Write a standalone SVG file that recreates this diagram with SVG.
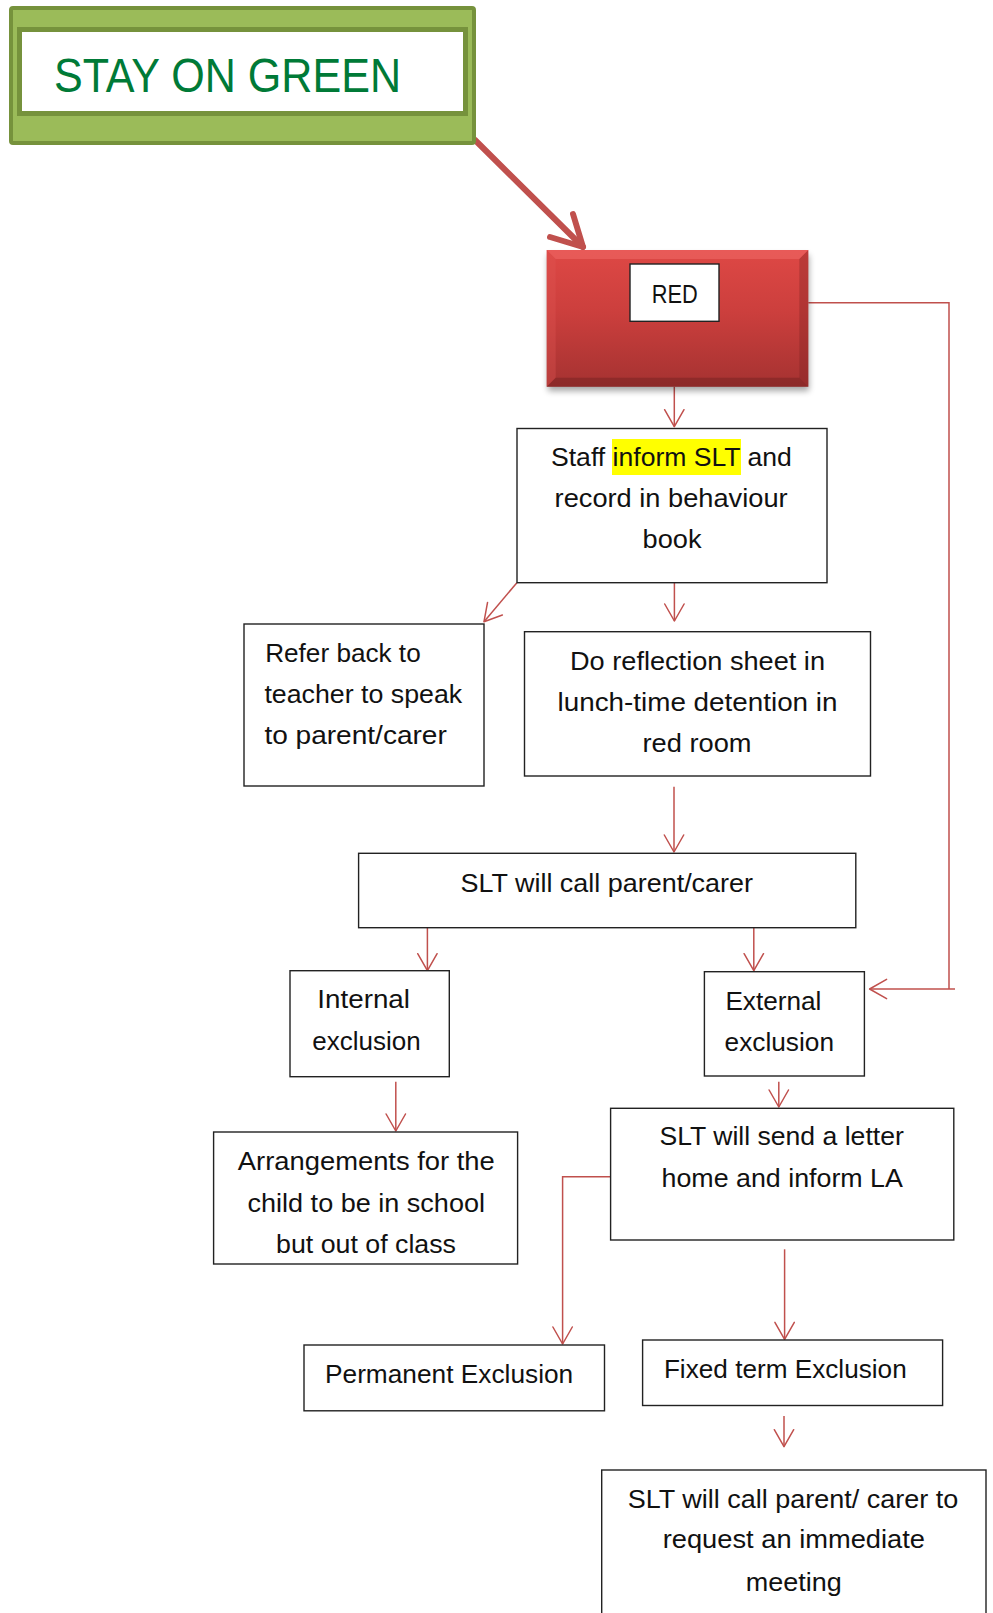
<svg xmlns="http://www.w3.org/2000/svg" width="993" height="1613" viewBox="0 0 993 1613">
<style>
.box{fill:#fff;stroke:#222;stroke-width:1.4}
.t{font-family:"Liberation Sans",Arial,sans-serif;font-size:26px;fill:#111}
.c{fill:none;stroke:#C0504D;stroke-width:1.5}
</style>
<defs>
<marker id="ah" markerUnits="userSpaceOnUse" viewBox="-18 -11 20 22" markerWidth="20" markerHeight="22" refX="0" refY="0" orient="auto" overflow="visible">
<path d="M-17,-9.7 L0,0 L-17,9.7" fill="none" stroke="#C0504D" stroke-width="1.5" stroke-linecap="round" stroke-linejoin="round"/>
</marker>
<linearGradient id="rg" x1="0" y1="0" x2="0" y2="1">
<stop offset="0" stop-color="#DE4845"/>
<stop offset="0.45" stop-color="#CC3F3D"/>
<stop offset="1" stop-color="#A53231"/>
</linearGradient>
<filter id="sh" x="-10%" y="-10%" width="120%" height="130%">
<feGaussianBlur stdDeviation="3"/>
</filter>
</defs>

<g id="connectors">
<path d="M475,140 L583,247" stroke="#C0504D" stroke-width="6" stroke-linecap="round" fill="none"/>
<path d="M550,237 L583,247 L573,214" stroke="#C0504D" stroke-width="6" stroke-linecap="round" stroke-linejoin="round" fill="none"/>
<path class="c" d="M674.3,386.7 V426.7" marker-end="url(#ah)"/>
<path class="c" d="M674.4,582.7 V621" marker-end="url(#ah)"/>
<path class="c" d="M516.9,582.7 L484,621.7" marker-end="url(#ah)"/>
<path class="c" d="M674,786.7 V852" marker-end="url(#ah)"/>
<path class="c" d="M427.4,927.7 V970.7" marker-end="url(#ah)"/>
<path class="c" d="M753.8,927.7 V970.7" marker-end="url(#ah)"/>
<path class="c" d="M808.3,302.7 H949 V989"/>
<path class="c" d="M955,989 H869.6" marker-end="url(#ah)"/>
<path class="c" d="M395.8,1081.7 V1131" marker-end="url(#ah)"/>
<path class="c" d="M778.8,1081.7 V1107" marker-end="url(#ah)"/>
<path class="c" d="M610.6,1176.7 H562.6 V1344" marker-end="url(#ah)"/>
<path class="c" d="M784.6,1249.3 V1339.3" marker-end="url(#ah)"/>
<path class="c" d="M784,1416 V1446.7" marker-end="url(#ah)"/>
</g>

<g id="stay-on-green">
<rect x="11" y="8" width="463" height="135" rx="2" fill="#9BBB59" stroke="#76923C" stroke-width="4"/>
<rect x="19.5" y="29.5" width="446" height="84" fill="#fff" stroke="#76923C" stroke-width="5"/>
<text x="54" y="92" font-family="'Liberation Sans',Arial,sans-serif" font-size="49" fill="#007A37" textLength="347" lengthAdjust="spacingAndGlyphs">STAY ON GREEN</text>
</g>

<g id="red">
<rect x="548" y="255" width="261" height="136" fill="#000" opacity="0.35" filter="url(#sh)"/>
<rect x="546.7" y="250" width="261.6" height="136.7" fill="url(#rg)"/>
<polygon points="546.7,250 808.3,250 799.3,259 555.7,259" fill="#F06A68" opacity="0.55"/>
<polygon points="546.7,250 555.7,259 555.7,377.7 546.7,386.7" fill="#E05552" opacity="0.35"/>
<polygon points="808.3,250 799.3,259 799.3,377.7 808.3,386.7" fill="#7A2222" opacity="0.35"/>
<polygon points="546.7,386.7 555.7,377.7 799.3,377.7 808.3,386.7" fill="#6E1E1E" opacity="0.45"/>
<rect x="630" y="264" width="89" height="57.3" class="box"/>
<text class="t" x="651.7" y="302.7" textLength="46" lengthAdjust="spacingAndGlyphs">RED</text>
</g>

<g id="staff-inform">
<rect x="517" y="428.5" width="310" height="154.2" class="box"/>
<rect x="612" y="439" width="129" height="36" fill="#FFFF00"/>
<text class="t" x="551" y="466" textLength="240.8" lengthAdjust="spacingAndGlyphs">Staff inform SLT and</text>
<text class="t" x="554.6" y="507.3" textLength="233" lengthAdjust="spacingAndGlyphs">record in behaviour</text>
<text class="t" x="642.5" y="548.3" textLength="59" lengthAdjust="spacingAndGlyphs">book</text>
</g>

<g id="refer-back">
<rect x="244" y="624" width="240" height="162" class="box"/>
<text class="t" x="265.2" y="661.7" textLength="155.5" lengthAdjust="spacingAndGlyphs">Refer back to</text>
<text class="t" x="264.4" y="702.7" textLength="197.8" lengthAdjust="spacingAndGlyphs">teacher to speak</text>
<text class="t" x="264.4" y="743.5" textLength="182.4" lengthAdjust="spacingAndGlyphs">to parent/carer</text>
</g>

<g id="reflection">
<rect x="524.5" y="631.7" width="346" height="144.3" class="box"/>
<text class="t" x="570" y="670" textLength="255" lengthAdjust="spacingAndGlyphs">Do reflection sheet in</text>
<text class="t" x="557.5" y="711" textLength="280" lengthAdjust="spacingAndGlyphs">lunch-time detention in</text>
<text class="t" x="642.5" y="751.7" textLength="109" lengthAdjust="spacingAndGlyphs">red room</text>
</g>

<g id="slt-call">
<rect x="358.6" y="853.3" width="497.2" height="74.4" class="box"/>
<text class="t" x="460.6" y="891.7" textLength="292.4" lengthAdjust="spacingAndGlyphs">SLT will call parent/carer</text>
</g>

<g id="internal-exclusion">
<rect x="290" y="970.7" width="159.3" height="106" class="box"/>
<text class="t" x="317.3" y="1008.3" textLength="92.7" lengthAdjust="spacingAndGlyphs">Internal</text>
<text class="t" x="312.3" y="1050" textLength="108.4" lengthAdjust="spacingAndGlyphs">exclusion</text>
</g>

<g id="external-exclusion">
<rect x="704.4" y="971.7" width="160" height="104.3" class="box"/>
<text class="t" x="725.4" y="1010" textLength="96" lengthAdjust="spacingAndGlyphs">External</text>
<text class="t" x="724.6" y="1050.7" textLength="109.4" lengthAdjust="spacingAndGlyphs">exclusion</text>
</g>

<g id="arrangements">
<rect x="213.6" y="1132" width="304" height="132" class="box"/>
<text class="t" x="237.8" y="1170" textLength="257" lengthAdjust="spacingAndGlyphs">Arrangements for the</text>
<text class="t" x="247.5" y="1211.7" textLength="237.5" lengthAdjust="spacingAndGlyphs">child to be in school</text>
<text class="t" x="276" y="1252.7" textLength="180" lengthAdjust="spacingAndGlyphs">but out of class</text>
</g>

<g id="send-letter">
<rect x="610.6" y="1108.3" width="343.2" height="131.7" class="box"/>
<text class="t" x="659.5" y="1145" textLength="244.3" lengthAdjust="spacingAndGlyphs">SLT will send a letter</text>
<text class="t" x="661.5" y="1186.7" textLength="241.4" lengthAdjust="spacingAndGlyphs">home and inform LA</text>
</g>

<g id="permanent-exclusion">
<rect x="304" y="1345" width="300.5" height="65.8" class="box"/>
<text class="t" x="325" y="1382.7" textLength="248.2" lengthAdjust="spacingAndGlyphs">Permanent Exclusion</text>
</g>

<g id="fixed-term-exclusion">
<rect x="642.6" y="1340" width="300" height="65.5" class="box"/>
<text class="t" x="663.9" y="1378.3" textLength="242.8" lengthAdjust="spacingAndGlyphs">Fixed term Exclusion</text>
</g>

<g id="immediate-meeting">
<rect x="601.7" y="1470" width="384.3" height="160" class="box"/>
<text class="t" x="627.7" y="1508.3" textLength="330.6" lengthAdjust="spacingAndGlyphs">SLT will call parent/ carer to</text>
<text class="t" x="662.7" y="1548.3" textLength="262.3" lengthAdjust="spacingAndGlyphs">request an immediate</text>
<text class="t" x="745.7" y="1590.7" textLength="96" lengthAdjust="spacingAndGlyphs">meeting</text>
</g>
</svg>
